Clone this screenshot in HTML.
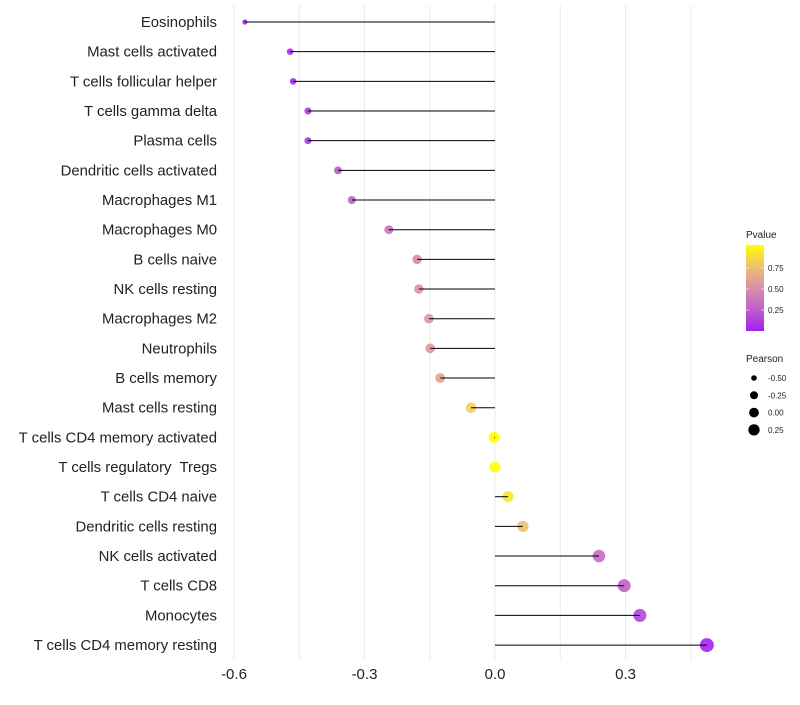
<!DOCTYPE html>
<html><head><meta charset="utf-8"><style>
body{margin:0;background:#fff;font-family:"Liberation Sans",sans-serif}
svg text{font-family:"Liberation Sans",sans-serif;white-space:pre}
</style></head><body>
<svg id="c" width="800" height="700">
<defs><linearGradient id="pg" x1="0" y1="1" x2="0" y2="0">
<stop offset="0" stop-color="#a020f0"/><stop offset="0.25" stop-color="#c060c8"/><stop offset="0.5" stop-color="#d890a8"/><stop offset="0.75" stop-color="#eec070"/><stop offset="1" stop-color="#ffff00"/></linearGradient></defs>
</svg>
<script>
const categories=["Eosinophils","Mast cells activated","T cells follicular helper","T cells gamma delta","Plasma cells","Dendritic cells activated","Macrophages M1","Macrophages M0","B cells naive","NK cells resting","Macrophages M2","Neutrophils","B cells memory","Mast cells resting","T cells CD4 memory activated","T cells regulatory  Tregs","T cells CD4 naive","Dendritic cells resting","NK cells activated","T cells CD8","Monocytes","T cells CD4 memory resting"];
const pearson=[-0.575,-0.471,-0.464,-0.43,-0.43,-0.361,-0.329,-0.244,-0.179,-0.175,-0.152,-0.149,-0.126,-0.055,-0.002,0.0,0.03,0.064,0.239,0.297,0.333,0.487];
const pvalue=[0.01,0.05,0.05,0.1,0.1,0.22,0.25,0.35,0.48,0.5,0.55,0.55,0.6,0.8,1.0,1.0,0.9,0.75,0.3,0.25,0.15,0.02];
const xTicks=[-0.6,-0.3,0.0,0.3];
const xTickLabels=["-0.6","-0.3","0.0","0.3"];
const legendP=[0.25,0.5,0.75];
const legendPearson=[-0.5,-0.25,0,0.25];
const NS="http://www.w3.org/2000/svg",svg=document.getElementById('c');
const X=v=>495+v*435, Y=i=>22+i*29.67;
const R=v=>Math.sqrt(Math.max(2.9,10.9+39.7*(v+0.471)));
function col(p){const s=[[0,[160,32,240]],[0.25,[192,96,200]],[0.5,[216,144,168]],[0.75,[238,192,112]],[1,[255,255,0]]];
for(let k=0;k<4;k++){if(p<=s[k+1][0]){const t=(p-s[k][0])/(s[k+1][0]-s[k][0]);const c=s[k][1].map((a,j)=>Math.round(a+(s[k+1][1][j]-a)*t));return`rgb(${c})`;}}return'rgb(255,255,0)';}
function el(t,a,txt){const e=document.createElementNS(NS,t);for(const k in a)e.setAttribute(k,a[k]);if(txt!=null)e.textContent=txt;svg.appendChild(e);return e;}
for(let v=-0.6;v<=0.46;v+=0.15){const g=el('line',{x1:X(v),x2:X(v),y1:5,y2:660,stroke:'#ebebeb','stroke-width':1});

}
xTicks.forEach((v,i)=>{const t=el('text',{x:X(v),y:679,'text-anchor':'middle','font-size':15,fill:'#222'},xTickLabels[i]);

});
categories.forEach((c,i)=>{const y=Y(i);
const t=el('text',{x:217,y:y+5,'text-anchor':'end','font-size':14.9,fill:'#222'},c);


const p=el('circle',{cx:X(pearson[i]),cy:y,r:R(pearson[i]),fill:col(pvalue[i]),'fill-opacity':0.9});


const l=el('line',{x1:X(0),x2:X(pearson[i]),y1:y,y2:y,stroke:'#000','stroke-width':1});

});
let t=el('text',{x:746,y:238,'font-size':10,fill:'#222'},'Pvalue');


const bar=el('rect',{x:746,y:245,width:18,height:86,fill:'url(#pg)'});


legendP.forEach(p=>{const y=331-p*84;
el('line',{x1:746,x2:749,y1:y,y2:y,stroke:'#fff','stroke-opacity':0.6});
el('line',{x1:761,x2:764,y1:y,y2:y,stroke:'#fff','stroke-opacity':0.6});
const a=el('text',{x:768,y:y+3,'font-size':8,fill:'#222'},p.toFixed(2));

});
t=el('text',{x:746,y:362,'font-size':10,fill:'#222'},'Pearson');


legendPearson.forEach((v,i)=>{const y=378+i*17.3;
const c=el('circle',{cx:754,cy:y,r:R(v)*0.9,fill:'#000'});


const a=el('text',{x:768,y:y+3,'font-size':8,fill:'#222'},v.toFixed(2));

});
</script>
</body></html>
